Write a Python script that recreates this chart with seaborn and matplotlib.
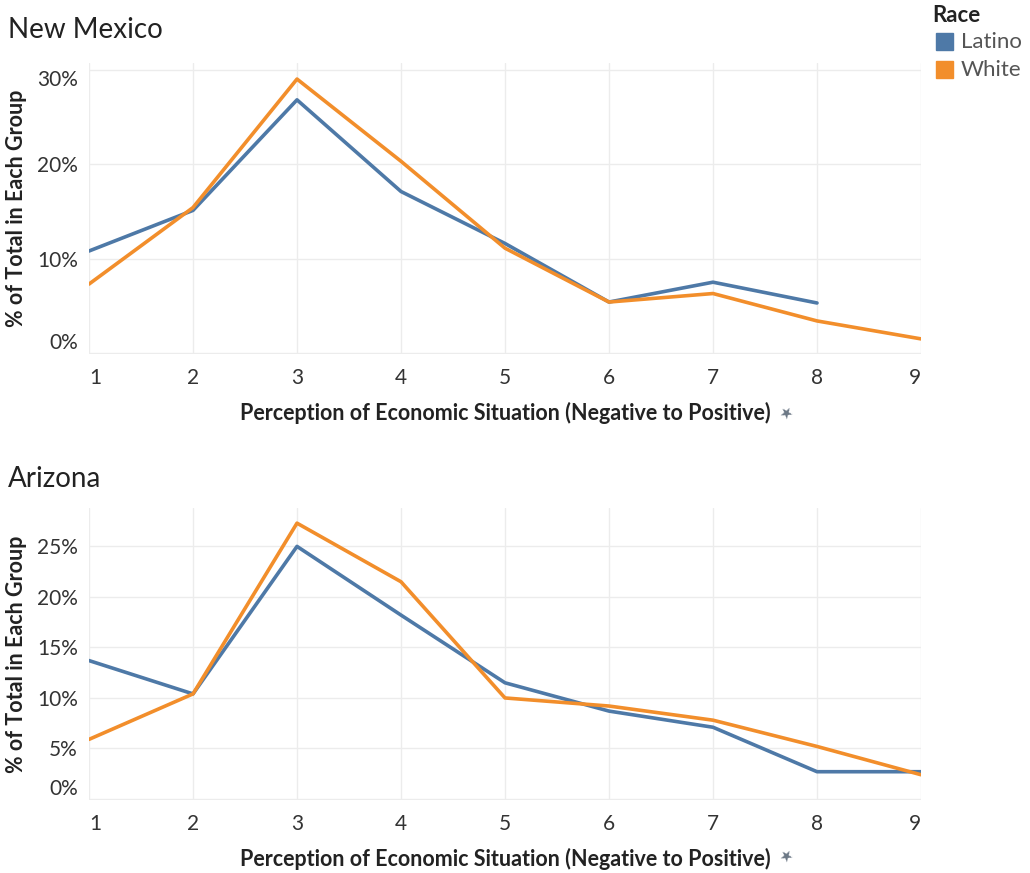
import matplotlib.pyplot as plt
import pandas as pd
import seaborn as sns

# Data (percent of total in each group)
levels = [1, 2, 3, 4, 5, 6, 7, 8, 9]
nm_latino = [10.8, 15.1, 26.8, 17.1, 11.6, 5.4, 7.5, 5.3]
nm_white = [7.3, 15.4, 29.0, 20.3, 11.1, 5.4, 6.3, 3.4, 1.5]
az_latino = [13.7, 10.4, 25.0, 18.2, 11.5, 8.7, 7.1, 2.7, 2.7]
az_white = [5.9, 10.4, 27.3, 21.5, 10.0, 9.2, 7.8, 5.2, 2.4]

races = ['Latino', 'White']
colors = {'Latino': '#4e79a7', 'White': '#f28e2b'}


def long_df(latino, white):
    rows = []
    for race, vals in zip(races, [latino, white]):
        for lv, v in zip(levels, vals):
            rows.append({'level': lv, 'pct': v, 'Race': race})
    return pd.DataFrame(rows)


df_nm = long_df(nm_latino, nm_white)
df_az = long_df(az_latino, az_white)

sns.set_style('white')
plt.rcParams['font.family'] = ['Lato', 'DejaVu Sans']

fig = plt.figure(figsize=(10.3, 8.73), dpi=100)
W, H = 1030, 873


def add_axes(left, top, right, bottom):
    return fig.add_axes([left / W, 1 - bottom / H, (right - left) / W, (bottom - top) / H])


ax1 = add_axes(89, 63, 921, 354)
ax2 = add_axes(89, 508, 921, 800)

panels = [
    (ax1, df_nm, 'New Mexico', [0, 10, 20, 30], (-0.1, 30.7)),
    (ax2, df_az, 'Arizona', [0, 5, 10, 15, 20, 25], (-0.1, 28.8)),
]

grid_c = '#ececec'
text_c = '#333333'

for ax, d, title, yt, ylim in panels:
    sns.lineplot(data=d, x='level', y='pct', hue='Race', palette=colors,
                 hue_order=races, linewidth=2.6, ax=ax, legend=False)
    ax.set_xlim(1, 9)
    ax.set_ylim(*ylim)
    ax.set_xticks(levels)
    ax.set_yticks(yt)
    ax.set_yticklabels([f'{v}%' for v in yt])
    ax.grid(True, color=grid_c, linewidth=1)
    ax.set_axisbelow(True)
    for s in ax.spines.values():
        s.set_visible(False)
    ax.tick_params(axis='both', length=0, labelsize=15, labelcolor=text_c)
    ax.tick_params(axis='x', pad=10)
    ax.tick_params(axis='y', pad=8)
    xl = ax.get_xticklabels()
    xl[0].set_ha('left')
    xl[-1].set_ha('right')
    yl = ax.get_yticklabels()
    yl[0].set_va('bottom')
    if ax is ax1:
        yl[-1].set_va('top')
    ax.set_xlabel('Perception of Economic Situation (Negative to Positive)',
                  fontsize=15.5, fontweight='bold', color='#222222', labelpad=10)
    ax.set_ylabel('% of Total in Each Group', fontsize=15.5,
                  fontweight='bold', color='#222222')
    ax.yaxis.set_label_coords(-62 / 832, 0.5)
    # small pin glyph after the axis title
    ax.text((787 - 89) / 832, -0.205 if ax is ax1 else -0.195, '\u2605',
            transform=ax.transAxes, fontsize=11, color='#6b7785',
            ha='center', va='center', rotation=40)

fig.text(8 / W, 1 - 30 / H, 'New Mexico', fontsize=20, color='#222222', va='center')
fig.text(8 / W, 1 - 479 / H, 'Arizona', fontsize=20, color='#222222', va='center')

# Legend
fig.text(932 / W, 1 - 15 / H, 'Race', fontsize=16, fontweight='bold', color='#222222', va='center')
for i, r in enumerate(races):
    yc = 42 + 28 * i
    fig.patches.append(plt.Rectangle((936 / W, 1 - (yc + 8) / H), 17 / W, 17 / H,
                                     transform=fig.transFigure, color=colors[r], figure=fig))
    fig.text(961 / W, 1 - yc / H, r, fontsize=16, color='#555555', va='center')

fig.savefig('out.png', dpi=100)
